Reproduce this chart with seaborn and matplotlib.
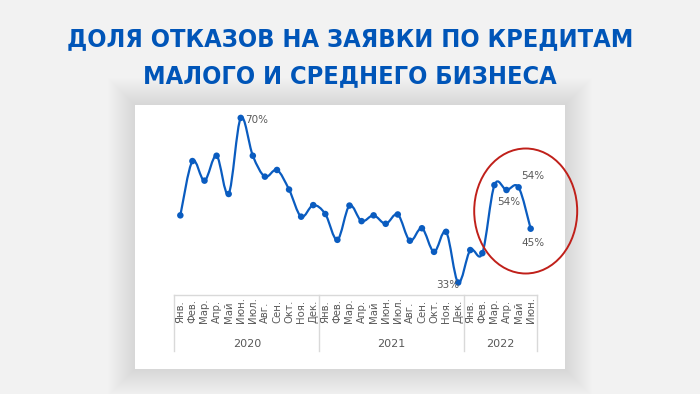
import numpy as np
import pandas as pd
import matplotlib
matplotlib.use("Agg")
import matplotlib.pyplot as plt
import matplotlib.transforms as mtrans
from matplotlib.path import Path
from matplotlib.patches import PathPatch, Rectangle, Ellipse
import seaborn as sns

# ---------------- data ----------------
title_lines = ["ДОЛЯ ОТКАЗОВ НА ЗАЯВКИ ПО КРЕДИТАМ", "МАЛОГО И СРЕДНЕГО БИЗНЕСА"]
months = ["Янв.", "Фев.", "Мар.", "Апр.", "Май", "Июн.", "Июл.", "Авг.", "Сен.", "Окт.", "Ноя.", "Дек."]
years = ["2020", "2021", "2022"]
months_per_year = [12, 12, 6]
values = [48.1, 60.3, 55.9, 61.5, 52.9, 70.0, 61.5, 56.8, 58.3, 53.9, 47.8, 50.4,
          48.4, 42.6, 50.3, 46.8, 48.1, 46.2, 48.3, 42.4, 45.2, 39.9, 44.4, 33.0,
          40.3, 39.6, 54.9, 53.8, 54.4, 45.1]
labeled_points = [5, 23, 27, 28, 29]
# label offsets in pixels (dx, dy) relative to the point
label_offsets = [(16, -2.5), (-10, -2), (2.7, -12), (14.3, 11), (2.6, -14)]

month_labels = [m for n in months_per_year for m in months[:n]]
df = pd.DataFrame({"idx": np.arange(len(values)), "value": values, "month": month_labels})

# ---------------- style ----------------
W, H = 700, 394
BG = "#F2F2F2"
LINE = "#0A5CC0"
TXT = "#595959"
GRID = "#D9D9D9"

fig = plt.figure(figsize=(W / 100, H / 100), dpi=100, facecolor=BG)

def fx(x):
    return x / W

def fy(y):
    return 1 - y / H

# shadow + white panel
pl, pt, pr, pb = 135, 104.7, 565, 369.3
for k in range(1, 28):
    fig.patches.append(Rectangle((fx(pl - k), fy(pb + k)), (pr - pl + 2 * k) / W, (pb - pt + 2 * k) / H,
                                 transform=fig.transFigure, fc="black", ec="none", alpha=0.004, zorder=0.5))
fig.patches.append(Rectangle((fx(pl), fy(pb)), (pr - pl) / W, (pb - pt) / H,
                             transform=fig.transFigure, fc="white", ec="none", zorder=1))

# title
for text, yc in zip(title_lines, [39.5, 76.5]):
    fig.text(0.5, fy(yc), text, ha="center", va="center", fontsize=18.2, fontweight="heavy",
             fontstretch="condensed", color="#0055B8", family="DejaVu Sans")

# axes
ax_l, ax_r, ax_t, ax_b = 174.3, 536.7, 105, 295
ax = fig.add_axes([fx(ax_l), fy(ax_b), (ax_r - ax_l) / W, (ax_b - ax_t) / H])
ax.set_zorder(2)
ax.set_facecolor("none")

# smoothed line (Catmull-Rom -> cubic Bezier rendered by matplotlib)
xs = df["idx"].to_numpy(dtype=float)
ys = df["value"].to_numpy(dtype=float)
n = len(xs)
verts = [(xs[0], ys[0])]
codes = [Path.MOVETO]
for i in range(n - 1):
    p0 = np.array([xs[max(i - 1, 0)], ys[max(i - 1, 0)]])
    p1 = np.array([xs[i], ys[i]])
    p2 = np.array([xs[i + 1], ys[i + 1]])
    p3 = np.array([xs[min(i + 2, n - 1)], ys[min(i + 2, n - 1)]])
    c1 = p1 + (p2 - p0) / 6
    c2 = p2 - (p3 - p1) / 6
    verts += [tuple(c1), tuple(c2), tuple(p2)]
    codes += [Path.CURVE4] * 3
ax.add_patch(PathPatch(Path(verts, codes), fill=False, ec=LINE, lw=1.6, zorder=3,
                       capstyle="round", joinstyle="round"))

sns.scatterplot(data=df, x="idx", y="value", ax=ax, color=LINE, s=22, edgecolor="none",
                zorder=4, legend=False)

ax.set_xlim(-0.5, len(values) - 0.5)
ax.set_ylim(30.2, 72.9)
for s in ["top", "left", "right"]:
    ax.spines[s].set_visible(False)
ax.spines["bottom"].set_color(GRID)
ax.spines["bottom"].set_linewidth(1)
ax.set_xlabel("")
ax.set_ylabel("")
ax.set_xticks([])
ax.set_yticks([])

# data labels
for i, (dx, dy) in zip(labeled_points, label_offsets):
    ax.annotate(f"{round(values[i])}%", (i, values[i]), xytext=(dx * 0.72, dy * 0.72),
                textcoords="offset points", ha="center", va="center", fontsize=7.5, color=TXT,
                zorder=5)

# category axis (months + years)
blend = mtrans.blended_transform_factory(ax.transData, ax.transAxes)
ay = lambda ypx: (ax_b - ypx) / (ax_b - ax_t)
for i, m in enumerate(month_labels):
    ax.text(i, ay(323), m, rotation=90, ha="center", va="bottom", fontsize=7.3, color=TXT,
            transform=blend)
start = 0
bounds = [-0.5]
for yname, cnt in zip(years, months_per_year):
    center = start + (cnt - 1) / 2
    ax.text(center, ay(344), yname, ha="center", va="center", fontsize=8, color=TXT,
            transform=blend)
    start += cnt
    bounds.append(start - 0.5)
for b in bounds:
    ax.plot([b, b], [0, ay(350.7)], color=GRID, lw=1, transform=blend, clip_on=False)

# red ellipse highlight
fig.patches.append(Ellipse((fx(525.7), fy(211)), 103 / W, 125 / H, transform=fig.transFigure,
                           fill=False, ec="#C0201A", lw=1.4, zorder=3))

fig.savefig("out.png", dpi=100, facecolor=BG)
